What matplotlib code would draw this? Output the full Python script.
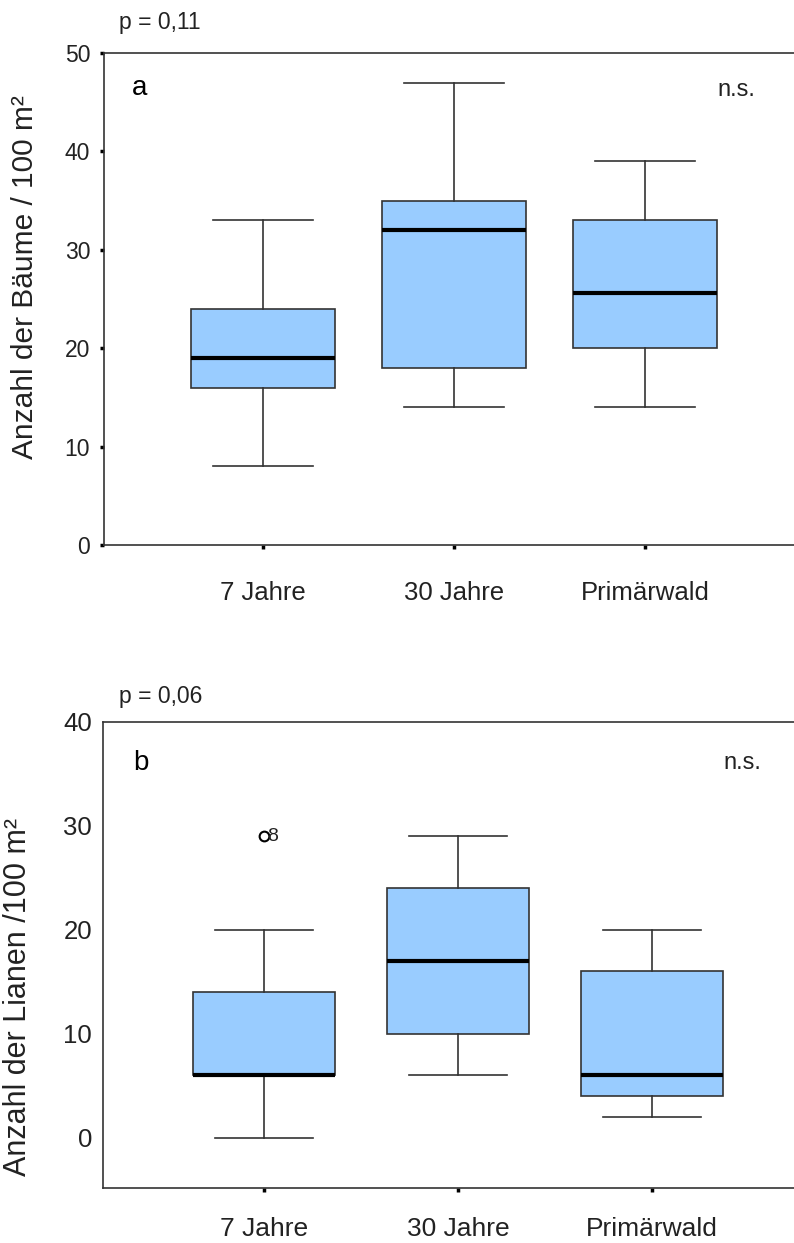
import matplotlib
matplotlib.use("Agg")
import matplotlib.pyplot as plt

plt.rcParams['font.family'] = ['Liberation Sans', 'DejaVu Sans']

# group names (same for both panels)
groups = ['7 Jahre', '30 Jahre', 'Primärwald']

# panel a: trees per 100 m²
trees_low = [8, 14, 14]
trees_q1 = [16, 18, 20]
trees_med = [19, 32, 25.6]
trees_q3 = [24, 35, 33]
trees_high = [33, 47, 39]
trees_fliers = [[], [], []]

# panel b: lianas per 100 m²
lianas_low = [0, 6, 2]
lianas_q1 = [6, 10, 4]
lianas_med = [6, 17, 6]
lianas_q3 = [14, 24, 16]
lianas_high = [20, 29, 20]
lianas_fliers = [[29], [], []]
lianas_flier_ids = [['8'], [], []]

BOX_FILL = '#99ccff'
EDGE = '#333333'
TXT = '#222222'


def make_stats(low, q1, med, q3, high, fliers):
    stats = []
    for i in range(len(groups)):
        stats.append({'label': groups[i], 'whislo': low[i], 'q1': q1[i],
                      'med': med[i], 'q3': q3[i], 'whishi': high[i],
                      'fliers': fliers[i]})
    return stats


def draw_panel(ax, stats, box_w, cap_w):
    ax.bxp(stats, positions=[1, 2, 3], widths=box_w, capwidths=cap_w,
           patch_artist=True, showfliers=True,
           boxprops=dict(facecolor=BOX_FILL, edgecolor=EDGE, linewidth=1.2),
           medianprops=dict(color='black', linewidth=3.0),
           whiskerprops=dict(color=EDGE, linewidth=1.2),
           capprops=dict(color=EDGE, linewidth=1.2),
           flierprops=dict(marker='o', markerfacecolor='white',
                           markeredgecolor='black', markersize=7,
                           markeredgewidth=1.5))
    for side in ['left', 'bottom', 'top']:
        ax.spines[side].set_color(EDGE)
        ax.spines[side].set_linewidth(1.2)
    ax.spines['right'].set_visible(False)


fig = plt.figure(figsize=(7.94, 12.43), dpi=100)

# --- panel a ---
ax1 = fig.add_axes([104 / 794, 1 - 545 / 1243, 1 - 104 / 794, (545 - 53) / 1243])
draw_panel(ax1, make_stats(trees_low, trees_q1, trees_med, trees_q3,
                           trees_high, trees_fliers), 0.75, 0.52)
ax1.set_xlim(0.1675, 0.1675 + 690 / 191)
ax1.set_ylim(0, 50)
ax1.set_yticks([0, 10, 20, 30, 40, 50])
ax1.tick_params(axis='y', direction='out', length=3, width=2.5,
                color='black', labelsize=16.5, pad=7, labelcolor=TXT)
ax1.tick_params(axis='x', direction='out', length=3, width=2.5,
                color='black', labelsize=18.5, pad=23, labelcolor=TXT)
ax1.set_xticks([1, 2, 3])
ax1.set_xticklabels(groups)

fig.text(119 / 794, 1 - 22 / 1243, 'p = 0,11', fontsize=16.5,
         ha='left', va='center', color=TXT)
fig.text(140 / 794, 1 - 88 / 1243, 'a', fontsize=20, ha='center',
         va='center', color='black')
fig.text(736 / 794, 1 - 90 / 1243, 'n.s.', fontsize=17, ha='center',
         va='center', color=TXT)
fig.text(25 / 794, 1 - 277 / 1243, 'Anzahl der Bäume / 100 m²',
         fontsize=21.5, rotation=90, ha='center', va='center', color=TXT)

# --- panel b ---
ax2 = fig.add_axes([103 / 794, 1 - 1188 / 1243, 1 - 103 / 794, (1188 - 722) / 1243])
draw_panel(ax2, make_stats(lianas_low, lianas_q1, lianas_med, lianas_q3,
                           lianas_high, lianas_fliers), 0.73, 0.51)
ax2.set_xlim(0.17, 0.17 + 691 / 194)
ax2.set_ylim(-4.86, 40)
ax2.set_yticks([0, 10, 20, 30, 40])
ax2.tick_params(axis='y', length=0, labelsize=18.5, pad=8, labelcolor=TXT)
ax2.tick_params(axis='x', direction='out', length=3, width=2.5,
                color='black', labelsize=19, pad=18, labelcolor=TXT)
ax2.set_xticks([1, 2, 3])
ax2.set_xticklabels(groups)

for i, ids in enumerate(lianas_flier_ids):
    for val, name in zip(lianas_fliers[i], ids):
        ax2.annotate(name, (i + 1, val), xytext=(2.5, 0),
                     textcoords='offset points', fontsize=14,
                     ha='left', va='center', color=TXT)

fig.text(119 / 794, 1 - 697 / 1243, 'p = 0,06', fontsize=16.5,
         ha='left', va='center', color=TXT)
fig.text(141 / 794, 1 - 763 / 1243, 'b', fontsize=20, ha='center',
         va='center', color='black')
fig.text(742 / 794, 1 - 763 / 1243, 'n.s.', fontsize=17, ha='center',
         va='center', color=TXT)
fig.text(18 / 794, 1 - 997 / 1243, 'Anzahl der Lianen /100 m²',
         fontsize=22, rotation=90, ha='center', va='center', color=TXT)

fig.savefig('out.png', dpi=100)
